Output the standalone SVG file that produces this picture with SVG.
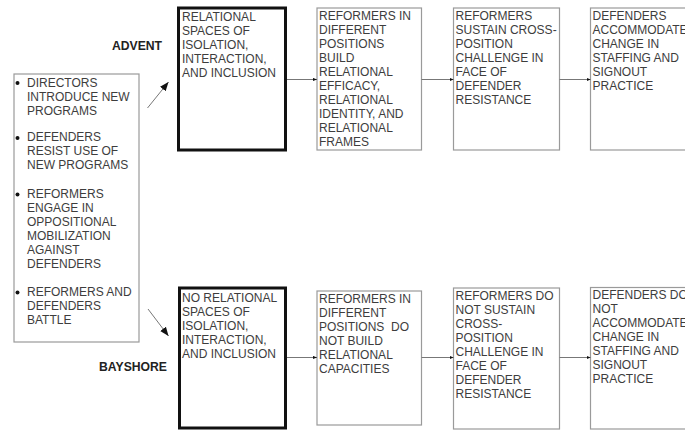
<svg xmlns="http://www.w3.org/2000/svg" width="685" height="430" viewBox="0 0 685 430">
<defs>
<style>
.t{font-family:"Liberation Sans",Arial,sans-serif;font-size:12px;fill:#3d3d3d;white-space:pre}
.lbl{font-family:"Liberation Sans",Arial,sans-serif;font-size:12.2px;font-weight:bold;fill:#222}
.thin{fill:#fff;stroke:#9a9a9a;stroke-width:1.2}
.thick{fill:#fff;stroke:#111;stroke-width:3}
.con{stroke:#777;stroke-width:1;fill:none}
.dot{fill:#111}
</style>
<marker id="ah" viewBox="0 0 10 10" refX="10" refY="5" markerWidth="4" markerHeight="4" markerUnits="userSpaceOnUse" orient="auto"><path d="M0,1 L10,5 L0,9 Z" fill="#111"/></marker>
<marker id="ahb" viewBox="0 0 10 10" refX="10" refY="5" markerWidth="9" markerHeight="9" markerUnits="userSpaceOnUse" orient="auto"><path d="M0,1 L10,5 L0,9 Z" fill="#111"/></marker>
</defs>
<rect width="685" height="430" fill="#fff"/>

<g id="left">
<rect class="thin" x="14" y="74" width="125" height="268"/>
<circle class="dot" cx="17.5" cy="83" r="2"/>
<circle class="dot" cx="17.5" cy="138" r="2"/>
<circle class="dot" cx="17.5" cy="194.5" r="2"/>
<circle class="dot" cx="17.5" cy="292.5" r="2"/>
<text class="t" x="27" y="86.5">DIRECTORS</text>
<text class="t" x="27" y="100.5">INTRODUCE NEW</text>
<text class="t" x="27" y="114.5">PROGRAMS</text>
<text class="t" x="27" y="141">DEFENDERS</text>
<text class="t" x="27" y="155">RESIST USE OF</text>
<text class="t" x="27" y="169">NEW PROGRAMS</text>
<text class="t" x="27" y="197.5">REFORMERS</text>
<text class="t" x="27" y="211.5">ENGAGE IN</text>
<text class="t" x="27" y="225.5">OPPOSITIONAL</text>
<text class="t" x="27" y="239.5">MOBILIZATION</text>
<text class="t" x="27" y="253.5">AGAINST</text>
<text class="t" x="27" y="267.5">DEFENDERS</text>
<text class="t" x="27" y="295.5">REFORMERS AND</text>
<text class="t" x="27" y="309.5">DEFENDERS</text>
<text class="t" x="27" y="323.5">BATTLE</text>
</g>

<g id="advent-label"><text class="lbl" x="137" y="49.5" text-anchor="middle">ADVENT</text></g>
<g id="bayshore-label"><text class="lbl" x="133" y="371" text-anchor="middle">BAYSHORE</text></g>

<g id="a1">
<rect class="thick" x="178.5" y="8" width="107" height="142"/>
<text class="t" x="182" y="21">RELATIONAL</text>
<text class="t" x="182" y="35">SPACES OF</text>
<text class="t" x="182" y="49">ISOLATION,</text>
<text class="t" x="182" y="63">INTERACTION,</text>
<text class="t" x="182" y="77">AND INCLUSION</text>
</g>
<g id="a2">
<rect class="thin" x="317" y="8" width="104.5" height="142"/>
<text class="t" x="319" y="20">REFORMERS IN</text>
<text class="t" x="319" y="34">DIFFERENT</text>
<text class="t" x="319" y="48">POSITIONS</text>
<text class="t" x="319" y="62">BUILD</text>
<text class="t" x="319" y="76">RELATIONAL</text>
<text class="t" x="319" y="90">EFFICACY,</text>
<text class="t" x="319" y="104">RELATIONAL</text>
<text class="t" x="319" y="118">IDENTITY, AND</text>
<text class="t" x="319" y="132">RELATIONAL</text>
<text class="t" x="319" y="146">FRAMES</text>
</g>
<g id="a3">
<rect class="thin" x="453.5" y="8" width="106" height="142"/>
<text class="t" x="455.5" y="20">REFORMERS</text>
<text class="t" x="455.5" y="34">SUSTAIN CROSS-</text>
<text class="t" x="455.5" y="48">POSITION</text>
<text class="t" x="455.5" y="62">CHALLENGE IN</text>
<text class="t" x="455.5" y="76">FACE OF</text>
<text class="t" x="455.5" y="90">DEFENDER</text>
<text class="t" x="455.5" y="104">RESISTANCE</text>
</g>
<g id="a4">
<rect class="thin" x="590.5" y="8" width="110" height="142"/>
<text class="t" x="592.5" y="20">DEFENDERS</text>
<text class="t" x="592.5" y="34">ACCOMMODATE</text>
<text class="t" x="592.5" y="48">CHANGE IN</text>
<text class="t" x="592.5" y="62">STAFFING AND</text>
<text class="t" x="592.5" y="76">SIGNOUT</text>
<text class="t" x="592.5" y="90">PRACTICE</text>
</g>

<g id="b1">
<rect class="thick" x="179.5" y="288" width="106" height="140"/>
<text class="t" x="182" y="302">NO RELATIONAL</text>
<text class="t" x="182" y="316">SPACES OF</text>
<text class="t" x="182" y="330">ISOLATION,</text>
<text class="t" x="182" y="344">INTERACTION,</text>
<text class="t" x="182" y="358">AND INCLUSION</text>
</g>
<g id="b2">
<rect class="thin" x="317" y="291" width="104.5" height="134"/>
<text class="t" x="319" y="302.5">REFORMERS IN</text>
<text class="t" x="319" y="316.5">DIFFERENT</text>
<text class="t" x="319" y="330.5" xml:space="preserve">POSITIONS  DO</text>
<text class="t" x="319" y="344.5">NOT BUILD</text>
<text class="t" x="319" y="358.5">RELATIONAL</text>
<text class="t" x="319" y="372.5">CAPACITIES</text>
</g>
<g id="b3">
<rect class="thin" x="453.5" y="288" width="106" height="141"/>
<text class="t" x="455.5" y="299.5">REFORMERS DO</text>
<text class="t" x="455.5" y="313.5">NOT SUSTAIN</text>
<text class="t" x="455.5" y="327.5">CROSS-</text>
<text class="t" x="455.5" y="341.5">POSITION</text>
<text class="t" x="455.5" y="355.5">CHALLENGE IN</text>
<text class="t" x="455.5" y="369.5">FACE OF</text>
<text class="t" x="455.5" y="383.5">DEFENDER</text>
<text class="t" x="455.5" y="397.5">RESISTANCE</text>
</g>
<g id="b4">
<rect class="thin" x="590.5" y="287.5" width="110" height="141.5"/>
<text class="t" x="592.5" y="299">DEFENDERS DO</text>
<text class="t" x="592.5" y="313">NOT</text>
<text class="t" x="592.5" y="327">ACCOMMODATE</text>
<text class="t" x="592.5" y="341">CHANGE IN</text>
<text class="t" x="592.5" y="355">STAFFING AND</text>
<text class="t" x="592.5" y="369">SIGNOUT</text>
<text class="t" x="592.5" y="383">PRACTICE</text>
</g>

<g id="connectors">
<line class="con" x1="147.5" y1="108" x2="168.5" y2="82" marker-end="url(#ahb)"/>
<line class="con" x1="148" y1="309" x2="168.5" y2="336" marker-end="url(#ahb)"/>
<line class="con" x1="287" y1="79.5" x2="317" y2="79.5" marker-end="url(#ah)"/>
<line class="con" x1="421.5" y1="79.5" x2="453.5" y2="79.5" marker-end="url(#ah)"/>
<line class="con" x1="559.5" y1="79.5" x2="590.5" y2="79.5" marker-end="url(#ah)"/>
<line class="con" x1="287" y1="357.5" x2="317" y2="357.5" marker-end="url(#ah)"/>
<line class="con" x1="421.5" y1="357.5" x2="453.5" y2="357.5" marker-end="url(#ah)"/>
<line class="con" x1="559.5" y1="357.5" x2="590.5" y2="357.5" marker-end="url(#ah)"/>
</g>
</svg>
